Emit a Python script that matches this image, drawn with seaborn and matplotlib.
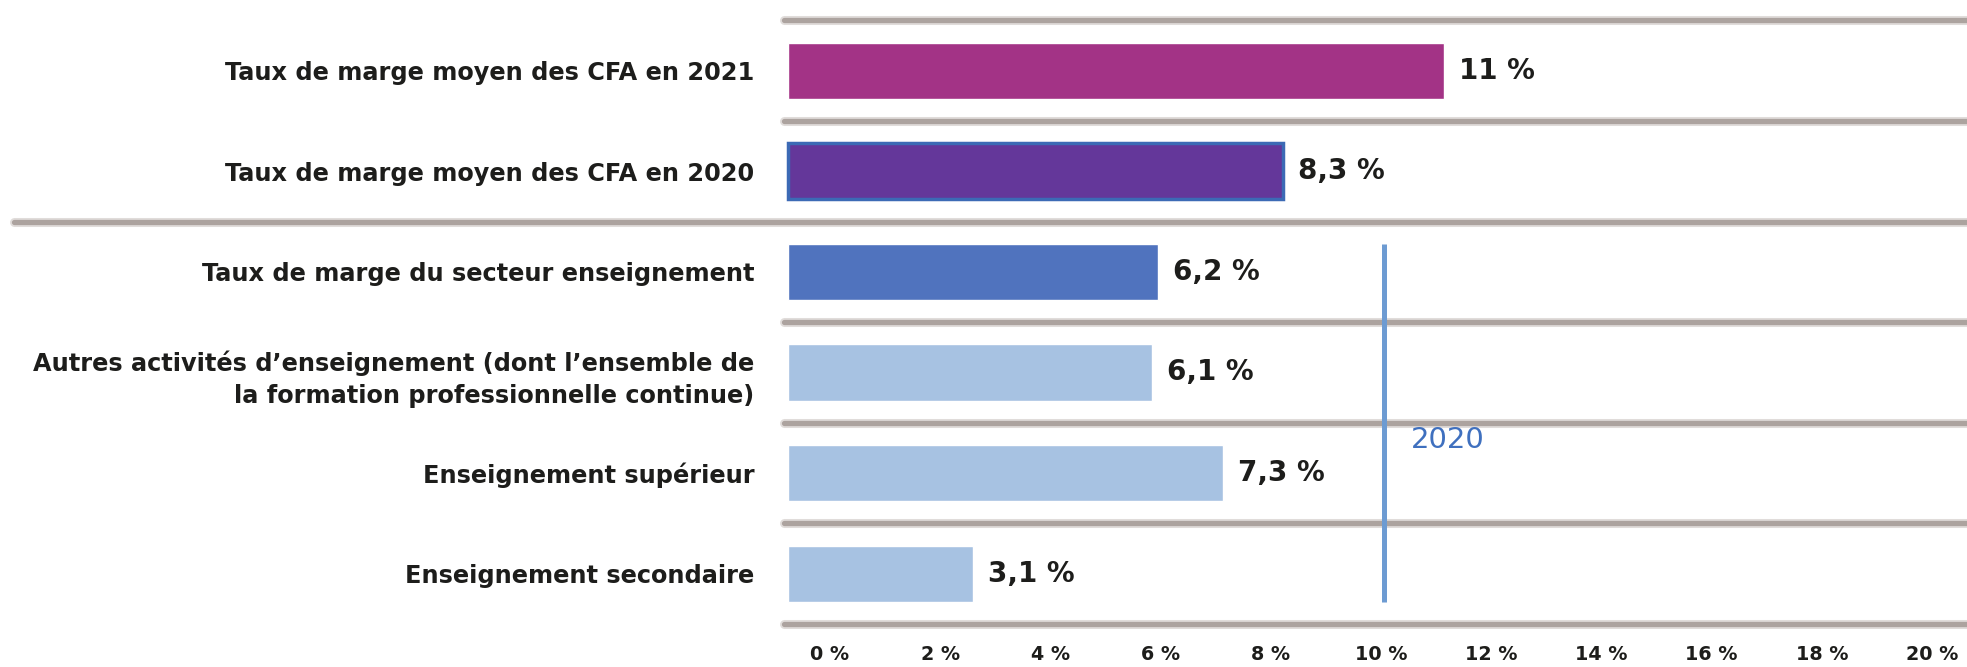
import matplotlib
matplotlib.use("Agg")
import matplotlib.pyplot as plt
import seaborn as sns
import pandas as pd

# Données
libelles = [
    "Taux de marge moyen des CFA en 2021",
    "Taux de marge moyen des CFA en 2020",
    "Taux de marge du secteur enseignement",
    "Autres activités d’enseignement (dont l’ensemble de\nla formation professionnelle continue)",
    "Enseignement supérieur",
    "Enseignement secondaire",
]
valeurs = [11, 8.3, 6.2, 6.1, 7.3, 3.1]
couleurs = ["#a33386", "#64379a", "#5073be", "#a7c2e2", "#a7c2e2", "#a7c2e2"]
graduations = [0, 2, 4, 6, 8, 10, 12, 14, 16, 18, 20]
repere_valeur = 10
repere_libelle = "2020"

df = pd.DataFrame({"libelle": libelles, "valeur": valeurs})
etiquettes = [f"{v:g}".replace(".", ",") + " %" for v in valeurs]

sns.set_style("white")
plt.rcParams["font.family"] = ["DejaVu Sans"]

W, H = 1967, 667
fig = plt.figure(figsize=(W / 100, H / 100), dpi=100)
ax = fig.add_axes([784 / W, 43 / H, 1183 / W, 624 / H])

epaisseur = 0.56
sns.barplot(
    data=df,
    x="valeur",
    y="libelle",
    hue="libelle",
    palette=couleurs,
    legend=False,
    orient="h",
    width=epaisseur,
    saturation=1,
    ax=ax,
)

px_pct = 59.6
ax.set_xlim(-4 / px_pct, (1183 - 4) / px_pct)
ax.set_ylim(5.5, 5.5 - 624 / 100.6)

# contour du bar 2020 (comme sur l'original)
barre_2020 = ax.containers[1][0]
barre_2020.set_edgecolor("#3c6ab5")
barre_2020.set_linewidth(2.5)

# valeurs au bout des barres
for cont, lab in zip(ax.containers, etiquettes):
    ax.bar_label(cont, labels=[lab], padding=11, fontsize=20,
                 fontweight="bold", color="#1d1d1b")

# lignes de séparation (la ligne entre CFA et secteur va jusqu'à gauche)
for y in [-0.5, 0.5, 1.5, 2.5, 3.5, 4.5, 5.5]:
    debut = (14 - 784) / 1183 if y == 1.5 else 0
    ax.axhline(y, xmin=debut, xmax=1, color="#e0dcda", lw=6.5, clip_on=False, zorder=0)
    ax.axhline(y, xmin=debut, xmax=1, color="#aca39f", lw=3.8, clip_on=False, zorder=0)

# repère vertical 10 %
ax.vlines(repere_valeur, 2 - epaisseur / 2, 5 + epaisseur / 2,
          color="#6d9bd2", lw=3.6, zorder=3)
ax.text(repere_valeur + 0.45, 3.67, repere_libelle, color="#3f70bf",
        fontsize=21, ha="left", va="center")


# les graduations de l'original ne sont pas alignées sur les barres
def vers_grad(p):
    return (px_pct * p - 42) / 55.1


def depuis_grad(s):
    return (55.1 * s + 42) / px_pct


sec = ax.secondary_xaxis("bottom", functions=(vers_grad, depuis_grad))
sec.set_xticks(graduations)
sec.set_xticklabels([f"{g} %" for g in graduations])
sec.tick_params(length=0, pad=15, labelsize=13.8, labelcolor="#1d1d1b")
for t in sec.get_xticklabels():
    t.set_fontweight("bold")
for s in sec.spines.values():
    s.set_visible(False)

ax.tick_params(axis="x", bottom=False, labelbottom=False)
ax.tick_params(axis="y", length=0, pad=21.5, labelsize=17.3, labelcolor="#1d1d1b")
for t in ax.get_yticklabels():
    t.set_fontweight("bold")
    t.set_linespacing(1.42)
ax.set_xlabel("")
ax.set_ylabel("")
for s in ax.spines.values():
    s.set_visible(False)

fig.savefig("out.png", dpi=100)
